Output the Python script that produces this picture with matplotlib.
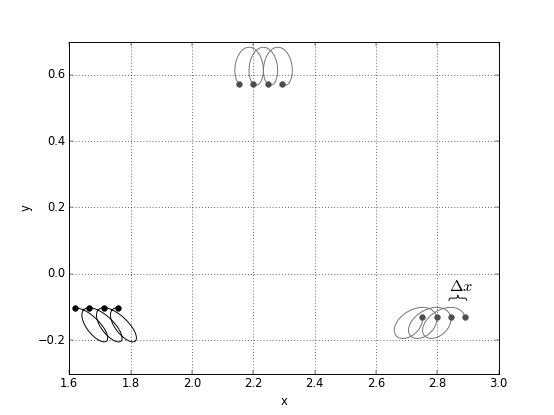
import numpy as np
import matplotlib
matplotlib.use("Agg")
import matplotlib.pyplot as plt
from matplotlib.path import Path
from matplotlib.patches import PathPatch

plt.style.use("classic")
plt.rcParams["lines.scale_dashes"] = False

# ---- data ----
# dot positions (one per gyration period), in travel order
bl_x = [1.619, 1.665, 1.713, 1.758]
bl_y = -0.102
top_x = [2.154, 2.200, 2.247, 2.295]
top_y = 0.572
br_x = [2.890, 2.844, 2.798, 2.751]
br_y = -0.131

# loop shape of each group: conjugate semi-diameters P and Q (data units)
bl_P = (-0.0359, 0.0514)
bl_Q = (0.0392, 0.0000)
top_P = (-0.0121, -0.0535)
top_Q = (-0.0320, 0.0203)
br_P = (0.0572, 0.0166)
br_Q = (0.0000, 0.0437)

x_ticks = [1.6, 1.8, 2.0, 2.2, 2.4, 2.6, 2.8, 3.0]
y_ticks = [-0.2, 0.0, 0.2, 0.4, 0.6]
delta_label = r"$\Delta x$"

W, H, DPI = 554, 415, 69.25
fig = plt.figure(figsize=(W / DPI, H / DPI), dpi=DPI)
ax = fig.add_subplot(111)

phase = np.linspace(0, 2 * np.pi, 300)


def draw_group(xs, y, P, Q, lc, dc):
    for i in range(len(xs) - 1):
        x0, x1 = xs[i], xs[i + 1]
        px = x0 + (x1 - x0) * phase / (2 * np.pi) + P[0] * (np.cos(phase) - 1) + Q[0] * np.sin(phase)
        py = y + P[1] * (np.cos(phase) - 1) + Q[1] * np.sin(phase)
        ax.plot(px, py, color=lc, lw=1.0, zorder=2)
    ax.plot(xs, [y] * len(xs), linestyle="none", marker="o", ms=6,
            mfc=dc, mec=dc, zorder=3)


draw_group(bl_x, bl_y, bl_P, bl_Q, "black", "black")
draw_group(top_x, top_y, top_P, top_Q, "0.45", "0.3")
draw_group(br_x, br_y, br_P, br_Q, "0.45", "0.3")

# brace over the last period of the right group
bx0, bx1 = br_x[1] - 0.006, br_x[0] + 0.006
xc = 0.5 * (bx0 + bx1)
yb, ym, yt = -0.081, -0.073, -0.064
q = 0.006
verts = [(bx0, yb), (bx0, ym), (bx0 + q, ym), (xc - q, ym), (xc, ym), (xc, yt),
         (xc, ym), (xc + q, ym), (bx1 - q, ym), (bx1, ym), (bx1, yb)]
codes = [Path.MOVETO, Path.CURVE3, Path.CURVE3, Path.LINETO, Path.CURVE3, Path.CURVE3,
         Path.CURVE3, Path.CURVE3, Path.LINETO, Path.CURVE3, Path.CURVE3]
ax.add_patch(PathPatch(Path(verts, codes), fill=False, lw=1.0, color="black", zorder=3))
ax.text(xc + 0.011, -0.053, delta_label, fontsize=17, ha="center", va="baseline")

ax.set_xlim(1.6, 3.0)
ax.set_ylim(-0.3, 0.7)
ax.set_xticks(x_ticks)
ax.set_yticks(y_ticks)
ax.grid(True, color="k", linestyle=(0, (1, 2.2)), linewidth=0.6)
ax.set_xlabel("x")
ax.set_ylabel("y")

fig.savefig("out.png", dpi=DPI)
